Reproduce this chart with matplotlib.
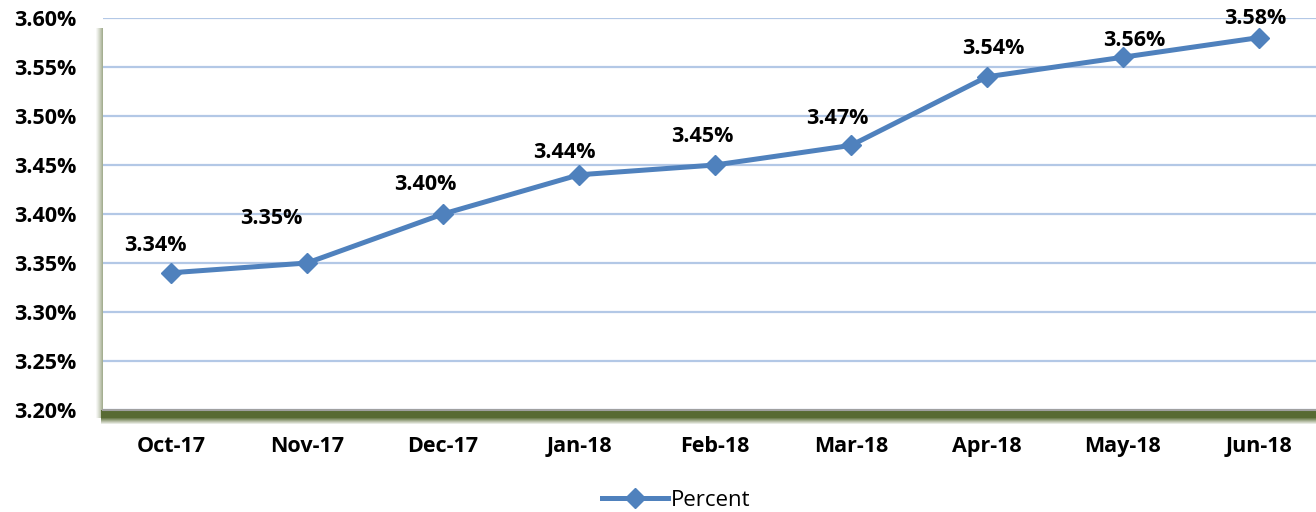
import matplotlib
matplotlib.use("Agg")
import matplotlib.pyplot as plt
import numpy as np

categories = ["Oct-17", "Nov-17", "Dec-17", "Jan-18", "Feb-18", "Mar-18", "Apr-18", "May-18", "Jun-18"]
values = [3.34, 3.35, 3.40, 3.44, 3.45, 3.47, 3.54, 3.56, 3.58]
series_name = "Percent"
yticks = [3.20, 3.25, 3.30, 3.35, 3.40, 3.45, 3.50, 3.55, 3.60]

# label offsets in pixels (dx, dy)
label_dx = [-16, -36, -18, -15, -13, -14, 6, 11, -4]
label_dy = [27, 45, 30, 22, 28, 27, 28, 17, 19]

plt.rcParams['font.family'] = ['Open Sans', 'DejaVu Sans']

W, H = 1316, 512
fig = plt.figure(figsize=(W / 100, H / 100), dpi=100)

# shadow layer (pixel-based gradient)
sh_ax = fig.add_axes([0, 0, 1, 1], zorder=0)
sh_ax.set_xlim(0, W)
sh_ax.set_ylim(H, 0)
sh_ax.axis("off")
rgba = np.zeros((H, W, 4))
base = np.array([0x4F, 0x62, 0x28]) / 255.0
rgba[..., :3] = base
alpha = np.zeros((H, W))
# bottom shadow: rows 410..424
for r in range(410, 425):
    d = r - 410
    a = 0.95 if d < 8 else 0.95 * max(0.0, 1 - (d - 7) / 7.0)
    alpha[r, 101:W] = np.maximum(alpha[r, 101:W], a)
# left shadow: columns 95..103
for c in range(95, 104):
    a = 0.6 * max(0.0, 1 - (103 - c) / 8.0) ** 1.2
    alpha[28:418, c] = np.maximum(alpha[28:418, c], a)
rgba[..., 3] = alpha
sh_ax.imshow(rgba, extent=(0, W, H, 0), interpolation="bilinear", aspect="auto")

L, R, B, T = 103 / W, 1.0, 1 - 410 / H, 1 - 18 / H
ax = fig.add_axes([L, B, R - L, T - B], zorder=1)

line_color = "#4F81BD"
x = np.arange(len(categories))
ax.plot(x, values, color=line_color, lw=3.6, marker="D", markersize=10,
        markeredgecolor=line_color, markerfacecolor=line_color, label=series_name, zorder=3)

for xi, v, dx, dy in zip(x, values, label_dx, label_dy):
    ax.annotate(f"{v:.2f}%", (xi, v), xytext=(dx, dy), textcoords="offset pixels",
                ha="center", va="center", fontsize=15.5, fontweight="bold", color="black")

ax.set_xlim(-0.5, (W - 103) / 136 - 0.5)
ax.set_ylim(3.20, 3.60)
ax.set_yticks(yticks)
ax.set_yticklabels([f"{t:.2f}%" for t in yticks], fontsize=15.5, fontweight="bold")
ax.set_xticks(x)
ax.set_xticklabels(categories, fontsize=15.5, fontweight="bold")
ax.tick_params(axis="both", length=0)
ax.tick_params(axis="y", pad=19)
ax.tick_params(axis="x", pad=19)

ax.patch.set_facecolor("white")
ax.grid(axis="y", color="#B3C8E6", lw=1.6)
ax.set_axisbelow(True)
for s in ["top", "right", "left"]:
    ax.spines[s].set_visible(False)
ax.spines["bottom"].set_color("#A0A0A0")
ax.spines["bottom"].set_linewidth(1.5)
ax.spines["bottom"].set_zorder(4)

leg = fig.legend(loc="center", bbox_to_anchor=(676 / W, 1 - 500 / H), frameon=False,
                 fontsize=16, handlelength=3.0, handletextpad=0.1)

fig.savefig("out.png", dpi=100)
